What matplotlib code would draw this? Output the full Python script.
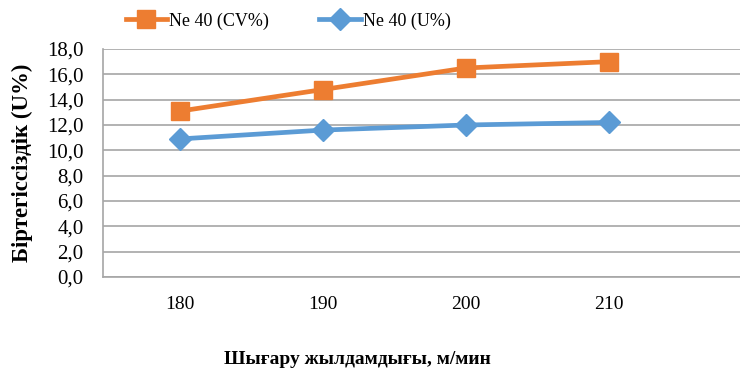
import matplotlib
matplotlib.use("Agg")
import matplotlib.pyplot as plt

speeds = ["180", "190", "200", "210"]
cv_values = [13.1, 14.8, 16.5, 17.0]
u_values = [10.9, 11.6, 12.0, 12.2]
y_ticks = [0, 2, 4, 6, 8, 10, 12, 14, 16, 18]

orange = "#ED7D31"
blue = "#5B9BD5"
grid_color = "#A6A6A6"

plt.rcParams["font.family"] = ["Liberation Serif", "DejaVu Serif"]

fig = plt.figure(figsize=(7.4, 3.72), dpi=100)
ax = fig.add_axes([103 / 740, 1 - 277 / 372, 1 - 103 / 740, 228 / 372])

xs = list(range(len(speeds)))
ax.plot(xs, cv_values, color=orange, linewidth=3.4, marker="s", markersize=13,
        label="Ne 40 (CV%)", zorder=3)
ax.plot(xs, u_values, color=blue, linewidth=3.4, marker="D", markersize=11,
        label="Ne 40 (U%)", zorder=3)

ax.set_ylim(0, 18)
ax.set_xlim(-0.54, 3.92)
ax.set_yticks(y_ticks)
ax.set_yticklabels([f"{v:.1f}".replace(".", ",") for v in y_ticks], fontsize=15)
ax.set_xticks(xs)
ax.set_xticklabels(speeds, fontsize=14)
ax.tick_params(axis="both", length=0)
ax.tick_params(axis="x", pad=14)
ax.tick_params(axis="y", pad=14)

ax.grid(axis="y", color=grid_color, linewidth=1.2)
ax.set_axisbelow(True)
for side in ("top", "right"):
    ax.spines[side].set_visible(False)
for side in ("left", "bottom"):
    ax.spines[side].set_color(grid_color)
    ax.spines[side].set_linewidth(1.2)

# axis titles placed in axes-fraction coordinates
ax.set_ylabel("Біртегіссіздік (U%)", fontsize=16.5, fontweight="bold")
ax.yaxis.set_label_coords(-(103 - 33) / 637, 0.5)
ax.set_xlabel("Шығару жылдамдығы, м/мин", fontsize=14, fontweight="bold")
ax.xaxis.set_label_coords((357 - 103) / 637, -74 / 228)

fig.legend(loc="center", bbox_to_anchor=(288 / 740, 1 - 21 / 372), ncol=2, frameon=False,
           fontsize=13, handlelength=2.3, handletextpad=0.1, columnspacing=2.8)

fig.savefig("out.png", dpi=100, facecolor="white")
